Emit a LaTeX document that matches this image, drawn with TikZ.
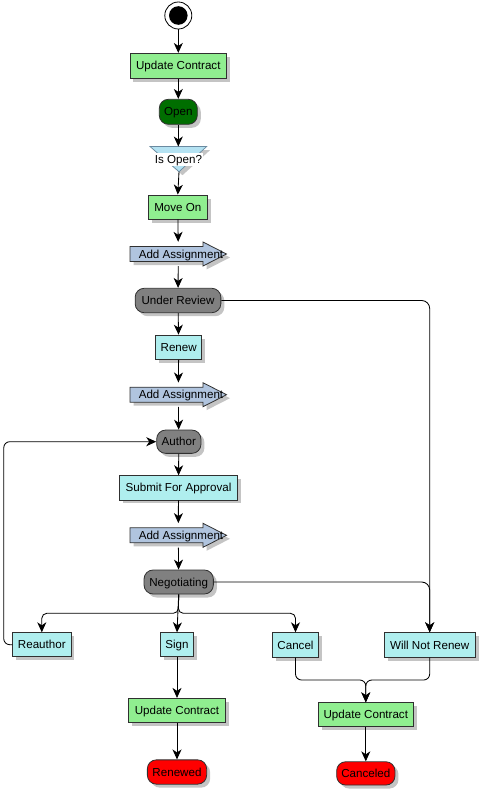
\documentclass[tikz,border=0pt]{standalone}
\usepackage{fontspec}
\setmainfont{Liberation Sans}
\usetikzlibrary{arrows.meta,shadows,calc}
\definecolor{cgreen}{HTML}{90EE90}
\definecolor{cdkgreen}{HTML}{006E00}
\definecolor{ccyan}{HTML}{AFEEEE}
\definecolor{cgray}{HTML}{808080}
\definecolor{cred}{HTML}{FF0000}
\definecolor{cblue}{HTML}{B0C4DE}
\definecolor{ctri}{HTML}{B4E2F2}
\definecolor{ctriborder}{HTML}{6A8AA0}
\definecolor{cshadow}{HTML}{C4C4C4}
\definecolor{cborder}{HTML}{303030}
\tikzset{
  shad/.style={drop shadow={shadow xshift=3.5pt, shadow yshift=-3.5pt, fill=cshadow, opacity=1}},
  txt/.style={font=\fontsize{11.6}{13}\selectfont, text=black, text height=8.3pt, text depth=0pt},
  base/.style={txt, shad, draw=cborder, line width=0.8pt, minimum height=24pt, inner xsep=1pt, inner ysep=0pt},
  actgreen/.style={base, fill=cgreen},
  actcyan/.style={base, fill=ccyan},
  stgray/.style={base, fill=cgray, rounded corners=9pt},
  stdkgreen/.style={base, fill=cdkgreen, rounded corners=9pt},
  stred/.style={base, fill=cred, rounded corners=9pt},
  aanode/.style={txt, minimum width=96.5pt, minimum height=24pt, inner sep=0pt},
  aashape/.style={shad, fill=cblue, draw=cborder, line width=0.8pt},
  conn/.style={draw=black, line width=0.85pt, -{Stealth[length=10pt,width=9pt,inset=3pt]}},
}
\newcommand\addasgshape[1]{%
  \path[aashape] (130,#1-7.5) -- (203,#1-7.5) -- (203,#1-12) -- (226.5,#1)
     -- (203,#1+12) -- (203,#1+7.5) -- (130,#1+7.5) -- cycle;}
\begin{document}
\begin{tikzpicture}[x=1pt,y=-1pt]
\useasboundingbox (0,0) rectangle (479,790);
% start
\node[circle, draw=black, fill=white, line width=0.8pt, minimum size=27pt, inner sep=0pt] (start) at (178.3,15.5) {};
\fill[black] (start.center) circle (9.3pt);
% main column
\node[actgreen, minimum width=96.7pt, minimum height=25pt] (uc1) at (178.3,65.8) {Update Contract};
\node[stdkgreen, minimum width=38pt, minimum height=25pt] (open) at (178.3,111.8) {Open};
% decision triangle
\path[shad, fill=ctri, draw=ctriborder, line width=0.7pt] (150,146.5) -- (206.7,146.5) -- (179,171.7) -- cycle;
\coordinate (tritop) at (178.3,146.5);
\coordinate (tritip) at (179,171.7);
\node[txt, fill=white, inner xsep=1pt, inner ysep=0pt, minimum height=13.3pt] (isopen) at (178.5,159.5) {Is Open?};
\node[actgreen, minimum width=59pt] (moveon) at (177.8,207) {Move On};
\addasgshape{254}
\node[aanode] (aa1) at (178.3,254) {\hspace*{5.4pt}Add Assignment};
\node[stgray, minimum width=85.7pt, minimum height=24.4pt] (ur) at (178,300.5) {Under Review};
\node[actcyan, minimum width=46pt, minimum height=24.3pt] (renew) at (178.7,347.2) {Renew};
\addasgshape{394.7}
\node[aanode] (aa2) at (178.3,394.7) {\hspace*{5.4pt}Add Assignment};
\node[stgray, minimum width=44.3pt, minimum height=23.3pt] (author) at (178.8,441.7) {Author};
\node[actcyan, minimum width=118.4pt, minimum height=24.3pt] (sfa) at (178.5,487.8) {Submit For Approval};
\addasgshape{535.3}
\node[aanode] (aa3) at (178.3,535.3) {\hspace*{5.4pt}Add Assignment};
\node[stgray, minimum width=69.3pt] (neg) at (178.7,582) {Negotiating};
% leaves
\node[actcyan, minimum width=58.3pt] (reauthor) at (41.8,644.7) {Reauthor};
\node[actcyan, minimum width=32.7pt] (sign) at (177,644.7) {Sign};
\node[actcyan, minimum width=45.6pt, minimum height=24.6pt] (cancel) at (295.5,645) {Cancel};
\node[actcyan, minimum width=91.3pt, minimum height=24.6pt] (wnr) at (429.7,645) {Will Not Renew};
\node[actgreen, minimum width=96.7pt] (uc2) at (177,710.3) {Update Contract};
\node[actgreen, minimum width=95pt] (uc3) at (365.8,714.7) {Update Contract};
\node[stred, minimum width=59.3pt, minimum height=24.3pt] (renewed) at (177,772) {Renewed};
\node[stred, minimum width=58.3pt, minimum height=23.3pt] (canceled) at (365.8,773.4) {Canceled};
% connectors
\draw[conn] (start) -- (uc1);
\draw[conn] (uc1) -- (open);
\draw[conn] (open.south) -- (tritop);
\draw[conn] (tritip) -- (moveon.north);
\draw[conn] (moveon) -- (aa1);
\draw[conn] (aa1) -- (ur);
\draw[conn] (ur) -- (renew);
\draw[conn] (renew) -- (aa2);
\draw[conn] (aa2) -- (author);
\draw[conn] (author) -- (sfa);
\draw[conn] (sfa) -- (aa3);
\draw[conn] (aa3) -- (neg);
\draw[conn, rounded corners=8pt] (ur.east) -| (wnr.north);
\draw[conn, rounded corners=8pt] (neg.east) -| (wnr.north);
\coordinate (spl) at (178.3,613.3);
\draw[conn, rounded corners=5pt] (neg.south) -- (spl) -- (spl -| reauthor.north) -- (reauthor.north);
\draw[conn, rounded corners=5pt] (neg.south) -- (spl) -- (spl -| cancel.north) -- (cancel.north);
\draw[conn] (neg.south) -- (sign.north);
\draw[conn, rounded corners=6pt] (reauthor.west) -- ++(-8.5,0) |- (author.west);
\draw[conn] (sign) -- (uc2);
\draw[conn] (uc2) -- (renewed);
\coordinate (mrg) at (365.8,680);
\draw[conn, rounded corners=6pt] (cancel.south) |- (mrg) -- (uc3.north);
\draw[conn, rounded corners=6pt] (wnr.south) |- (mrg) -- (uc3.north);
\draw[conn] (uc3) -- (canceled);
\end{tikzpicture}
\end{document}
